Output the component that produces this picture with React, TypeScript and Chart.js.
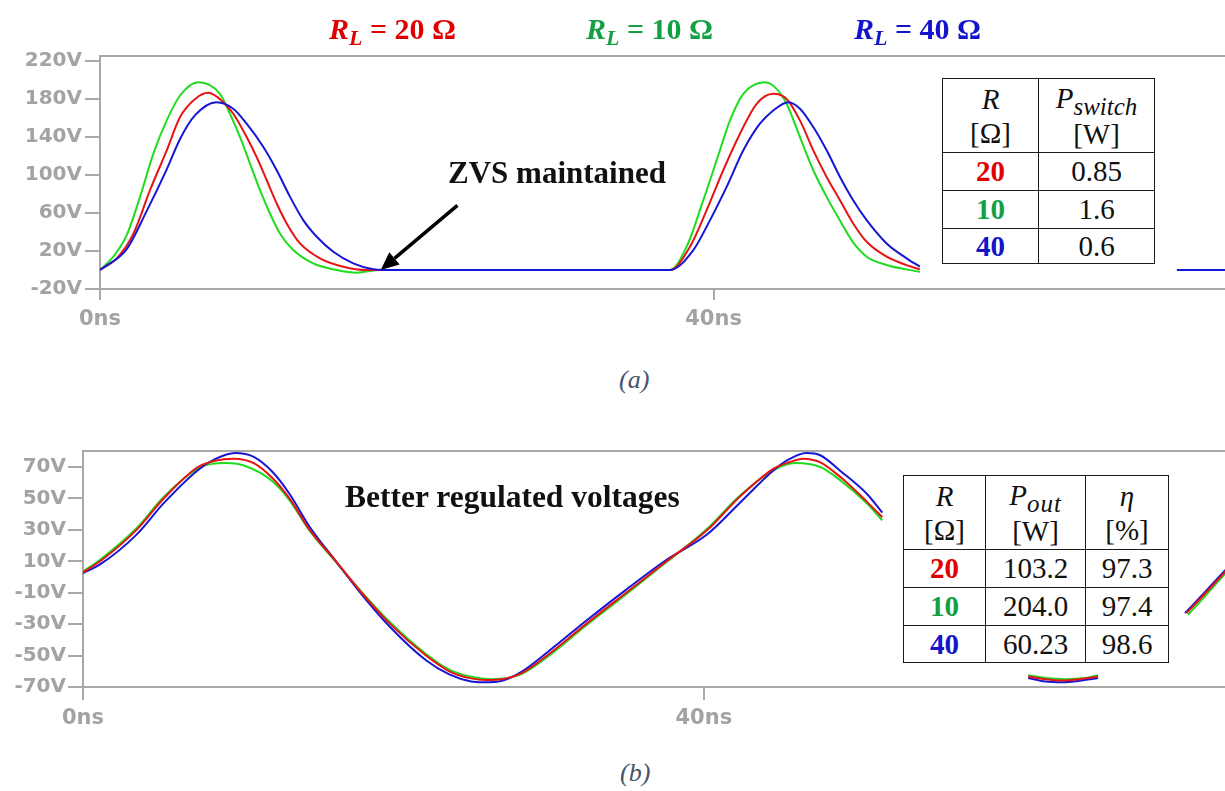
import React, { useEffect, useRef } from 'react';
import { Chart, registerables } from 'chart.js';
Chart.register(...registerables);

// ---------- (a) switch voltage, three load resistances ----------
const aRedTime = [0, 1.09, 2.17, 3.26, 4.35, 5.22, 6.2, 7.06, 8.04, 8.69, 9.56, 10.21, 10.87, 11.52, 12.17, 13.04, 14.34, 15.86, 17.38, 18.25,
  37.16, 38.46, 39.55, 40.63, 41.72, 42.81, 43.89, 44.76, 45.63, 46.5, 47.37, 48.24, 49.1, 49.98, 51.28, 52.58, 53.45];
const aRedVolt = [0, 12.2, 38, 84, 126, 161, 180, 186.5, 176.7, 164.5, 140, 119, 94.5, 70, 49, 28, 12.3, 3.5, 0, 0,
  0, 24.5, 63, 105, 143.5, 175, 185.5, 180, 157.5, 126, 98, 73.5, 49, 29.7, 14, 5.2, 0.7];

const aGreenTime = [0, 0.87, 1.74, 2.61, 3.48, 4.35, 5.22, 6.41, 7.82, 8.47, 9.13, 9.78, 10.43, 11.08, 11.73, 12.6, 13.9, 15.43, 16.73, 18.25,
  37.16, 38.24, 39.33, 40.2, 41.07, 41.94, 43.35, 44.11, 44.76, 45.63, 46.5, 47.37, 48.24, 49.1, 49.98, 51.28, 53.45];
const aGreenVolt = [0, 14, 36.7, 77, 122.5, 157.5, 183.7, 197.7, 185.5, 164.5, 140, 112, 84, 59.5, 38.5, 21, 7, 0, -2.8, 0,
  0, 24.5, 73.5, 115.5, 157.5, 185.5, 197.7, 190.7, 175, 140, 105, 77, 52, 29, 14, 5.2, -2];

const aBlueTime = [0, 1.74, 3.04, 4.35, 5.22, 6.2, 7.6, 8.69, 9.56, 10.65, 11.52, 12.39, 13.25, 14.13, 15.21, 16.51, 17.82, 18.47,
  37.16, 38.68, 39.77, 40.85, 41.94, 43.02, 43.89, 44.87, 45.63, 46.5, 47.37, 48.24, 49.1, 49.98, 51.28, 52.58, 53.45,
  60, 70.2, 73.4];
const aBlueVolt = [0, 22, 62, 106, 138, 163, 176.7, 169.8, 154, 129.5, 105, 77, 52.5, 35, 19.2, 7, 0.7, 0,
  0, 21, 52.5, 87.5, 126, 154, 168, 176.7, 169.8, 150.5, 126, 98, 73.5, 52.5, 28, 12.3, 3.5,
  null, 0, 0];

// ---------- (b) output voltage ----------
const bRedTime = [0, 1.1, 3.45, 5.2, 7.4, 8.5, 9.7, 11, 12.2, 13.3, 14.6, 16.3, 17.95, 19.8, 22.1, 23.6, 25, 26, 27, 28.3,
  29.9, 32.4, 35, 37.6, 40.2, 42.3, 44.5, 45.5, 46.4, 47.5, 48.8, 50.5, 51.5, 56, 60.9, 62, 63.1, 64.2, 65.4, 68, 71.1, 72.3, 73.7];
const bRedVolt = [3, 10, 30, 50, 70, 74, 75.3, 72.5, 63, 50, 30, 10, -10, -30, -50, -60, -64.5, -65.5, -65, -61,
  -50, -30, -10, 10, 29.7, 50.9, 69, 73, 75.3, 73, 63.6, 48, 38, null, -63.3, -65, -65.8, -65, -63.3, null, -23, -10.5, 4.5];

const bBlueTime = [0, 1.1, 3.45, 5.2, 7.4, 8.5, 9.8, 11, 12.2, 13.3, 14.6, 16.3, 17.95, 19.8, 22.1, 23.6, 25, 25.8, 27, 28.3,
  29.9, 32.4, 35, 37.6, 40.2, 42.3, 44.5, 45.5, 46.6, 47.5, 48.8, 50.5, 51.5, 56, 60.9, 62, 63.1, 64.2, 65.4, 68, 71.0, 72.3, 73.7];
const bBlueVolt = [2.5, 8, 27, 47, 68, 75, 78.9, 76.5, 67, 53, 32, 10, -11, -32, -53, -62, -66.5, -67, -66, -60,
  -48, -28, -8, 11, 27, 47, 68, 75, 78.9, 77.5, 67.5, 53, 41, null, -64.3, -66.5, -67, -66, -64.3, null, -23, -9.5, 5.5];

const bGreenTime = [0, 1.1, 3.45, 5.2, 7.4, 8.3, 9.25, 10.5, 12.2, 13.3, 14.6, 16.3, 17.95, 19.8, 22.1, 23.6, 25, 26.3, 27.3, 28.3,
  29.9, 32.4, 35, 37.6, 40.2, 42.3, 44.5, 45.9, 47.5, 48.8, 50.5, 51.5, 56, 60.9, 62.2, 63.3, 64.4, 65.4, 68, 71.2, 72.4, 73.7];
const bGreenVolt = [3.5, 11, 31, 51, 69, 72, 72.5, 70.5, 61, 49, 29.5, 9.5, -9.5, -29, -49, -59, -63.5, -65, -64.5, -61.5,
  -51, -31, -11, 9.5, 30.5, 51.5, 68, 72.5, 70, 61.5, 47, 36, null, -62.5, -64.5, -65, -64.5, -62.5, null, -24, -11, 3.5];

// ---------- ticks ----------
const aYTicks = [-20, 20, 60, 100, 140, 180, 220];
const bYTicks = [-70, -50, -30, -10, 10, 30, 50, 70];
const xTicks = [0, 40];

// ---------- tables ----------
const loads = ['20', '10', '40'];
const pSwitch = ['0.85', '1.6', '0.6'];
const pOut = ['103.2', '204.0', '60.23'];
const eff = ['97.3', '97.4', '98.6'];

const RED = '#e81414';
const GREEN = '#1fdc1f';
const BLUE = '#1616d4';
const TXT_RED = '#e00000';
const TXT_GREEN = '#13a043';
const TXT_BLUE = '#1414cc';
const loadColors = [TXT_RED, TXT_GREEN, TXT_BLUE];
const GRID = '#a8a8a8';
const TICK_TXT = '#a3a3a3';

const pts = (t: number[], v: (number | null)[]) => t.map((x, i) => ({ x, y: v[i] }));

type Cfg = {
  yTicks: number[]; yMin: number; yMax: number; xMax: number;
  axisWidth: number; padTop: number; xAxisHeight: number;
  yTickLen: number; yPad: number; xTickLen: number; xPad: number;
  datasets: any[];
  arrow?: { fromX: number; fromY: number; toX: number; toY: number };
};

function makeChart(canvas: HTMLCanvasElement, c: Cfg) {
  const framePlugin = {
    id: 'frame',
    afterDatasetsDraw(chart: any) {
      const { ctx, chartArea: a } = chart;
      ctx.save();
      ctx.strokeStyle = GRID;
      ctx.lineWidth = 2;
      ctx.beginPath();
      ctx.moveTo(a.left, a.top);
      ctx.lineTo(a.right, a.top);
      ctx.stroke();
      if (c.arrow) {
        const xs = chart.scales.x, ys = chart.scales.y;
        const x1 = xs.getPixelForValue(c.arrow.fromX), y1 = ys.getPixelForValue(c.arrow.fromY);
        const x2 = xs.getPixelForValue(c.arrow.toX), y2 = ys.getPixelForValue(c.arrow.toY);
        const ang = Math.atan2(y2 - y1, x2 - x1);
        const head = 18, hw = 8;
        const bx = x2 - head * Math.cos(ang), by = y2 - head * Math.sin(ang);
        ctx.strokeStyle = '#000';
        ctx.lineWidth = 3.5;
        ctx.beginPath();
        ctx.moveTo(x1, y1);
        ctx.lineTo(bx, by);
        ctx.stroke();
        ctx.fillStyle = '#000';
        ctx.beginPath();
        ctx.moveTo(x2, y2);
        ctx.lineTo(bx + hw * Math.sin(ang), by - hw * Math.cos(ang));
        ctx.lineTo(bx - hw * Math.sin(ang), by + hw * Math.cos(ang));
        ctx.closePath();
        ctx.fill();
      }
      ctx.restore();
    },
  };
  return new Chart(canvas, {
    type: 'line',
    data: { datasets: c.datasets },
    options: {
      animation: false,
      responsive: false,
      devicePixelRatio: 1,
      layout: { padding: { top: c.padTop, left: 0, right: 0, bottom: 0 } },
      plugins: { legend: { display: false }, tooltip: { enabled: false } },
      elements: { point: { radius: 0 }, line: { borderWidth: 2, cubicInterpolationMode: 'monotone' } },
      scales: {
        x: {
          type: 'linear', min: 0, max: c.xMax,
          afterFit: (s: any) => { s.height = c.xAxisHeight; },
          afterBuildTicks: (ax: any) => { ax.ticks = xTicks.map((v) => ({ value: v })); },
          grid: { display: true, drawOnChartArea: false, drawTicks: true, tickLength: c.xTickLen, color: GRID, lineWidth: 2 },
          border: { display: true, color: GRID, width: 2 },
          ticks: {
            color: TICK_TXT, padding: c.xPad, autoSkip: false, maxRotation: 0,
            font: { family: '"DejaVu Sans"', size: 21, weight: 'bold' },
            callback: (v: any) => v + 'ns',
          },
        },
        y: {
          type: 'linear', min: c.yMin, max: c.yMax,
          afterFit: (s: any) => { s.width = c.axisWidth; },
          afterBuildTicks: (ax: any) => { ax.ticks = c.yTicks.map((v) => ({ value: v })); },
          grid: { display: true, drawOnChartArea: false, drawTicks: true, tickLength: c.yTickLen, color: GRID, lineWidth: 2 },
          border: { display: true, color: GRID, width: 2 },
          ticks: {
            color: TICK_TXT, padding: c.yPad, autoSkip: false,
            font: { family: '"DejaVu Sans"', size: 20, weight: 'bold' },
            callback: (v: any) => v + 'V',
          },
        },
      },
    } as any,
    plugins: [framePlugin],
  });
}

const serif = '"Liberation Serif", "Times New Roman", serif';

function Txt(props: { left: number; baseline: number; size: number; style?: any; children: any }) {
  return (
    <div style={{
      position: 'absolute', left: props.left, top: props.baseline - 0.8375 * props.size,
      fontFamily: serif, fontSize: props.size, lineHeight: 1, whiteSpace: 'nowrap', ...props.style,
    }}>{props.children}</div>
  );
}

function Title(props: { left: number; color: string; load: string }) {
  return (
    <Txt left={props.left} baseline={39} size={30} style={{ fontWeight: 'bold', color: props.color }}>
      <i>R</i><i style={{ fontSize: 22, position: 'relative', top: 6 }}>L</i> = {props.load} Ω
    </Txt>
  );
}

const td: any = { border: '1.5px solid #1a1a1a', padding: 0, textAlign: 'center', verticalAlign: 'middle' };

export default function App() {
  const refA = useRef<HTMLCanvasElement>(null);
  const refB = useRef<HTMLCanvasElement>(null);

  useEffect(() => {
    const chartA = makeChart(refA.current!, {
      yTicks: aYTicks, yMin: -20, yMax: 225.3, xMax: 73.34,
      axisWidth: 100, padTop: 56, xAxisHeight: 41,
      yTickLen: 15, yPad: 3, xTickLen: 11, xPad: 7,
      arrow: { fromX: 23.3, fromY: 68, toX: 18.3, toY: 0 },
      datasets: [
        { data: pts(aBlueTime, aBlueVolt), borderColor: BLUE, spanGaps: false },
        { data: pts(aRedTime, aRedVolt), borderColor: RED, spanGaps: false },
        { data: pts(aGreenTime, aGreenVolt), borderColor: GREEN, spanGaps: false },
      ],
    });
    const chartB = makeChart(refB.current!, {
      yTicks: bYTicks, yMin: -70, yMax: 80.2, xMax: 73.58,
      axisWidth: 83, padTop: 51, xAxisHeight: 43,
      yTickLen: 15, yPad: 2, xTickLen: 13, xPad: 6,
      datasets: [
        { data: pts(bRedTime, bRedVolt), borderColor: RED, spanGaps: false },
        { data: pts(bBlueTime, bBlueVolt), borderColor: BLUE, spanGaps: false },
        { data: pts(bGreenTime, bGreenVolt), borderColor: GREEN, spanGaps: false },
      ],
    });
    return () => { chartA.destroy(); chartB.destroy(); };
  }, []);

  return (
    <div style={{ position: 'fixed', left: 0, top: 0, width: 1225, height: 791, overflow: 'hidden', background: '#fff' }}>
      <canvas ref={refA} width={1225} height={330} style={{ position: 'absolute', left: 0, top: 0 }} />
      <canvas ref={refB} width={1225} height={330} style={{ position: 'absolute', left: 0, top: 400 }} />

      <Title left={329} color={TXT_RED} load="20" />
      <Title left={586} color={TXT_GREEN} load="10" />
      <Title left={854} color={TXT_BLUE} load="40" />

      <Txt left={448} baseline={183} size={31} style={{ fontWeight: 'bold', color: '#111' }}>ZVS maintained</Txt>
      <Txt left={345} baseline={507} size={31.5} style={{ fontWeight: 'bold', color: '#111' }}>Better regulated voltages</Txt>

      <Txt left={619} baseline={389} size={26} style={{ fontStyle: 'italic', color: '#44546a' }}>(a)</Txt>
      <Txt left={620} baseline={782} size={26} style={{ fontStyle: 'italic', color: '#44546a' }}>(b)</Txt>

      <table style={{
        position: 'absolute', left: 942, top: 78, width: 212, borderCollapse: 'collapse', tableLayout: 'fixed',
        fontFamily: serif, fontSize: 29, color: '#111', background: '#fff',
      }}>
        <colgroup><col style={{ width: 96 }} /><col style={{ width: 116 }} /></colgroup>
        <tbody>
          <tr style={{ height: 74 }}>
            <td style={{ ...td, lineHeight: '34px' }}><i>R</i><br />[Ω]</td>
            <td style={{ ...td, lineHeight: '34px' }}><i>P</i><i style={{ fontSize: 25, position: 'relative', top: 7 }}>switch</i><br />[W]</td>
          </tr>
          {loads.map((l, i) => (
            <tr key={l} style={{ height: i === 2 ? 35 : 38 }}>
              <td style={{ ...td, fontWeight: 'bold', color: loadColors[i] }}>{l}</td>
              <td style={td}>{pSwitch[i]}</td>
            </tr>
          ))}
        </tbody>
      </table>

      <table style={{
        position: 'absolute', left: 903, top: 475, width: 265, borderCollapse: 'collapse', tableLayout: 'fixed',
        fontFamily: serif, fontSize: 29, color: '#111', background: '#fff',
      }}>
        <colgroup><col style={{ width: 82 }} /><col style={{ width: 100 }} /><col style={{ width: 83 }} /></colgroup>
        <tbody>
          <tr style={{ height: 74 }}>
            <td style={{ ...td, lineHeight: '34px' }}><i>R</i><br />[Ω]</td>
            <td style={{ ...td, lineHeight: '34px' }}><i>P</i><i style={{ fontSize: 25, position: 'relative', top: 7, letterSpacing: 1 }}>out</i><br />[W]</td>
            <td style={{ ...td, lineHeight: '34px' }}><i>η</i><br />[%]</td>
          </tr>
          {loads.map((l, i) => (
            <tr key={l} style={{ height: i === 2 ? 37 : 38 }}>
              <td style={{ ...td, fontWeight: 'bold', color: loadColors[i] }}>{l}</td>
              <td style={td}>{pOut[i]}</td>
              <td style={td}>{eff[i]}</td>
            </tr>
          ))}
        </tbody>
      </table>
    </div>
  );
}
